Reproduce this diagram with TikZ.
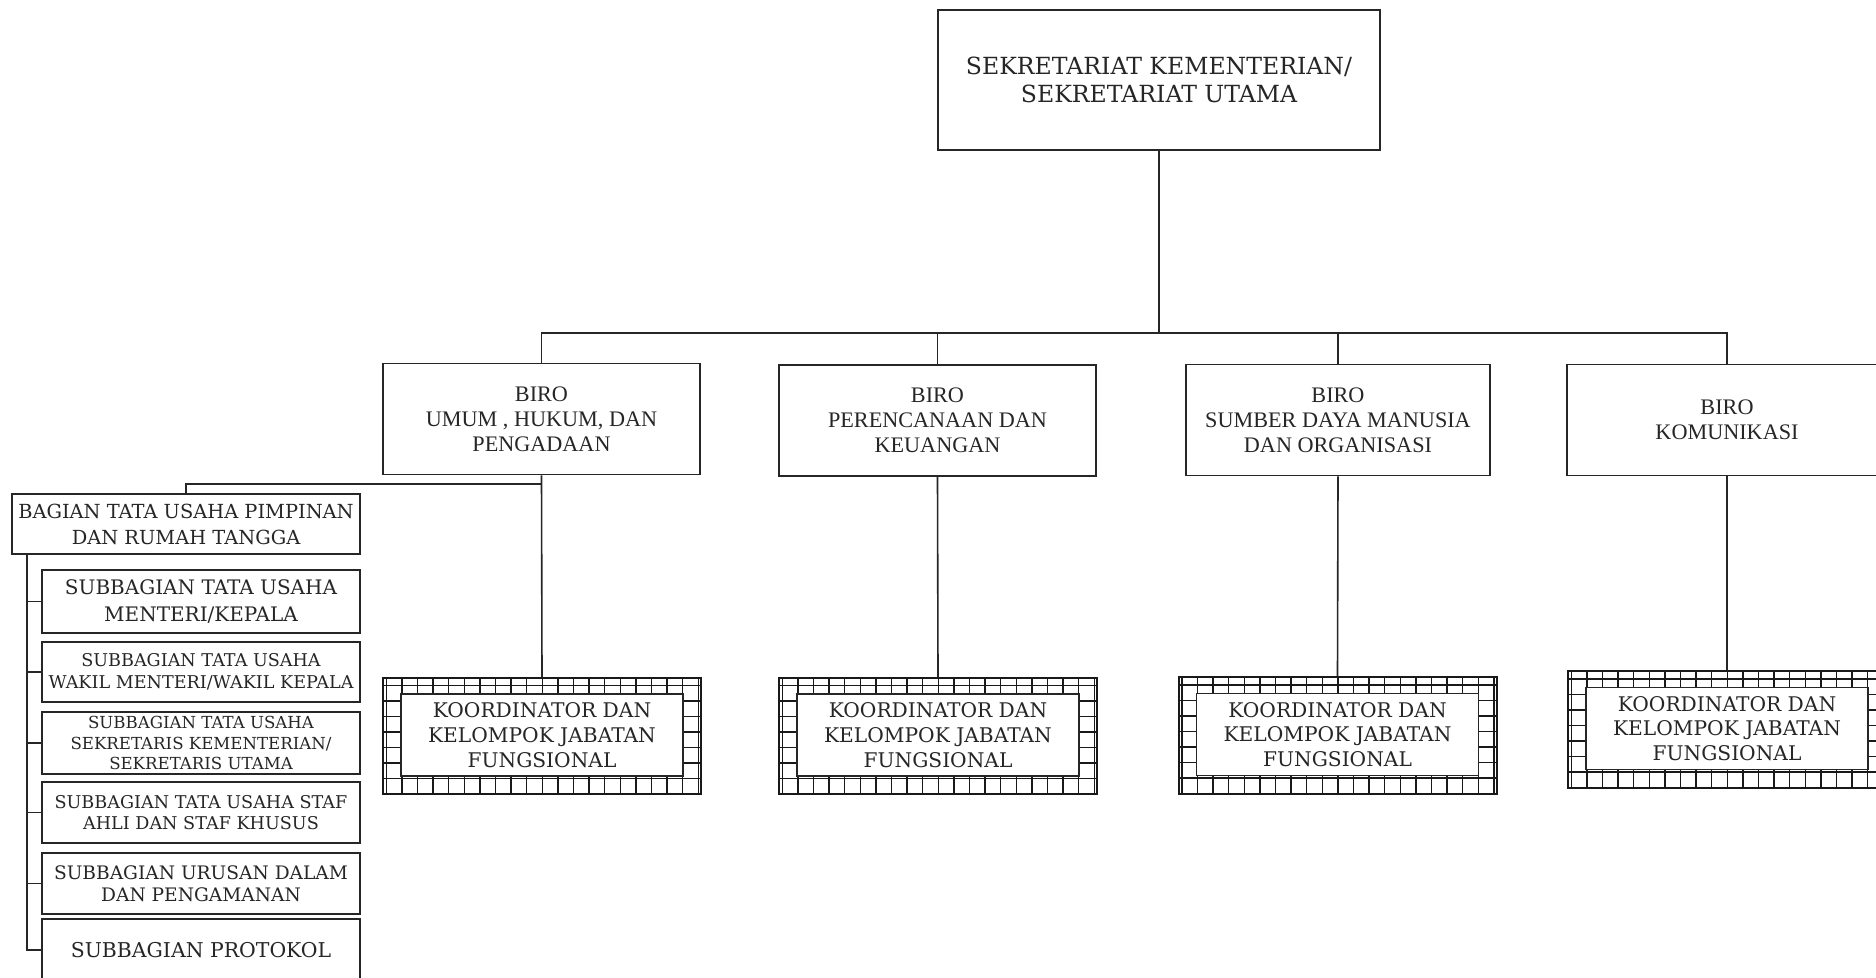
\documentclass[tikz,border=0pt]{standalone}
\usepackage{fontspec}
\setmainfont{DejaVu Serif}
\newfontfamily\tnr{Liberation Serif}
\begin{document}
\begin{tikzpicture}[x=0.5pt,y=-0.5pt,
  box/.style={draw=black!85, line width=0.8pt, align=center, inner sep=0pt, text=black!85},
  wh/.style 2 args={minimum width=#1, minimum height=#2},
  conn/.style={draw=black!85, line width=0.8pt},
  fs/.style 2 args={font=\fontsize{#1}{#2}\selectfont},
  birobox/.style={box, wh={158.5pt}{55.5pt}, font=\tnr\fontsize{11.1}{12.5}\selectfont},
  subbox/.style={box, minimum width=159pt},
  kgrid/.style={draw=black!90, line width=1pt, wh={159pt}{58pt},
    path picture={
      \foreach \i in {0,...,21}
        \draw[black!90, line width=0.7pt] ([xshift=1.65pt+\i*7.8pt]path picture bounding box.north west) -- ([xshift=1.65pt+\i*7.8pt]path picture bounding box.south west);
      \foreach \j in {0,...,8}
        \draw[black!90, line width=0.7pt] ([yshift=-3.75pt-\j*7.75pt]path picture bounding box.north west) -- ([yshift=-3.75pt-\j*7.75pt]path picture bounding box.north east);
    }},
  kin/.style={box, fill=white, wh={141pt}{41pt}, fs={10.1}{12.4}}
]
\clip (0,0) rectangle (1876,978);
\fill[white] (0,0) rectangle (1876,978);

% top
\node[box, wh={221pt}{70pt}, fs={11.8}{13.8}] (top) at (1159,80) {SEKRETARIAT KEMENTERIAN/\\SEKRETARIAT UTAMA};

% biro
\node[birobox] (b1) at (541.5,419) {BIRO\\UMUM , HUKUM, DAN\\PENGADAAN};
\node[birobox] (b2) at (937.5,420.5) {BIRO\\PERENCANAAN DAN\\KEUANGAN};
\node[birobox, minimum width=152pt] (b3) at (1338,420) {BIRO\\SUMBER DAYA MANUSIA\\DAN ORGANISASI};
\node[birobox, minimum width=160pt] (b4) at (1727,420) {BIRO\\KOMUNIKASI};

% koordinator
\foreach \n/\x/\y in {k1/542/736, k2/938/736, k3/1337.5/735.5, k4/1727/729.5}{
  \node[kgrid] (\n) at (\x,\y) {};
  \node[kin] (\n t) at (\x,\y-1) {KOORDINATOR DAN\\KELOMPOK JABATAN\\FUNGSIONAL};
}

% bagian
\node[box, wh={174pt}{30pt}, fs={9.7}{13}] (bag) at (186,524) {BAGIAN TATA USAHA PIMPINAN\\DAN RUMAH TANGGA};
\node[subbox, minimum height=31.5pt, fs={10}{13.3}] (s1) at (201,601.5) {SUBBAGIAN TATA USAHA\\MENTERI/KEPALA};
\node[subbox, minimum height=30pt, fs={8.8}{11}] (s2) at (201,672) {SUBBAGIAN TATA USAHA\\WAKIL MENTERI/WAKIL KEPALA};
\node[subbox, minimum height=31pt, fs={8.3}{10.2}] (s3) at (201,743) {SUBBAGIAN TATA USAHA\\SEKRETARIS KEMENTERIAN/\\SEKRETARIS UTAMA};
\node[subbox, minimum height=30.5pt, fs={8.8}{10.3}] (s4) at (201,812.5) {SUBBAGIAN TATA USAHA STAF\\AHLI DAN STAF KHUSUS};
\node[subbox, minimum height=30.5pt, fs={9.3}{10.8}] (s5) at (201,883.5) {SUBBAGIAN URUSAN DALAM\\DAN PENGAMANAN};
\node[subbox, minimum height=31pt, fs={10.2}{12}] (s6) at (201,950) {SUBBAGIAN PROTOKOL};

% connectors
\coordinate (bus) at (1159,333);
\coordinate (j1) at (541.5,484);
\coordinate (spt) at (27,554);
\draw[conn] (top.south) -- (bus);
\draw[conn] (b1.north) |- (bus) -| (b4.north);
\draw[conn] (b2.north) -- (b2.north |- bus);
\draw[conn] (b3.north) -- (b3.north |- bus);
\draw[conn] (b1.south) -- (k1.north);
\draw[conn] (b2.south) -- (k2.north);
\draw[conn] (b3.south) -- (k3.north);
\draw[conn] (b4.south) -- (k4.north);
\draw[conn] (j1) -| (bag.north);
\draw[conn] (spt) |- (s6.west);
\foreach \s in {s1,s2,s3,s4,s5}
  \draw[conn] (\s.west) -- (\s.west -| spt);
\end{tikzpicture}
\end{document}
